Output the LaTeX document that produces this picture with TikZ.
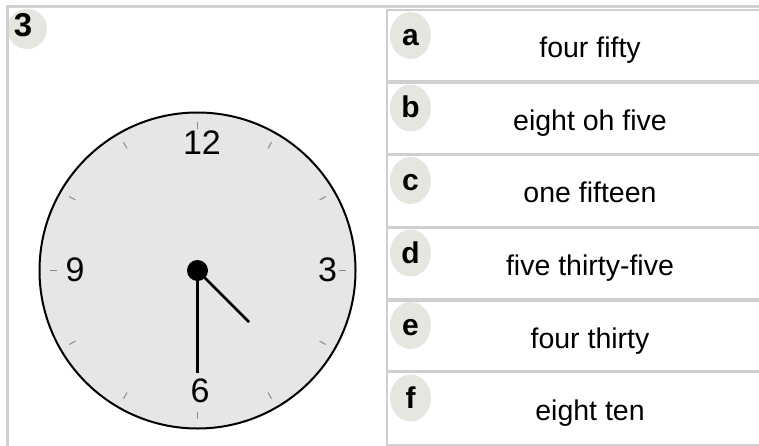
\documentclass[tikz,border=0pt]{standalone}
\usepackage{fontspec}
\setmainfont{Liberation Sans}
\definecolor{rulegray}{HTML}{CFCFCF}
\definecolor{badgegray}{HTML}{E6E6E0}
\definecolor{facegray}{HTML}{E6E6E6}
\definecolor{tickgray}{HTML}{8A8A8A}
\tikzset{
  rulefrm/.style={draw=rulegray},
  badge/.style={ellipse, fill=badgegray, inner sep=0pt, minimum width=41pt, minimum height=47pt},
  lettertxt/.style={anchor=base, inner sep=0pt, font=\fontsize{30}{30}\selectfont\bfseries},
  phrasetxt/.style={anchor=base, inner sep=0pt, font=\fontsize{28.5}{28.5}\selectfont},
  numtxt/.style={inner sep=0pt, font=\fontsize{34}{34}\selectfont},
  ticklin/.style={draw=tickgray, line width=1pt},
  hand/.style={line width=2.7pt, line cap=butt},
}
\usetikzlibrary{shapes.geometric}
\begin{document}
\begin{tikzpicture}[x=1pt,y=-1pt]
\useasboundingbox (0,0) rectangle (759,446);
% top-left badge
\node[circle, fill=badgegray, minimum size=40pt, inner sep=0pt] (qbadge) at (27,29) {};
\node[inner sep=0pt, font=\fontsize{33}{33}\selectfont\bfseries] (qnum) at (23,25) {3};
% frame lines
\coordinate (tl) at (6,6.5);
\coordinate (tr) at (759,6.5);
\coordinate (lt) at (7.5,5);
\coordinate (lb) at (7.5,446);
\draw[rulefrm, line width=3pt] (tl) -- (tr);
\draw[rulefrm, line width=3pt] (lt) -- (lb);
% clock
\node[circle, draw=black, line width=2pt, fill=facegray, minimum size=316pt, inner sep=0pt] (clock) at (197.5,270.5) {};
\foreach \a in {0,30,...,330}{
  \draw[ticklin] ([shift={(\a:141)}]clock.center) -- ([shift={(\a:148)}]clock.center);
}
\node[numtxt] (n12) at (202,143) {12};
\node[numtxt] (n3) at (327.5,270) {3};
\node[numtxt] (n9) at (75,270) {9};
\node[numtxt] (n6) at (200,390.5) {6};
\coordinate (hourtip) at (249,322);
\coordinate (mintip) at (197.5,373);
\draw[hand] (clock.center) -- (hourtip);
\draw[hand] (clock.center) -- (mintip);
\node[circle, fill=black, minimum size=21pt, inner sep=0pt] (hub) at (clock.center) {};
% right panel
\coordinate (vt) at (386.5,9);
\coordinate (vb) at (386.5,446);
\draw[rulefrm, line width=2pt] (vt) -- (vb);
\foreach \y/\w in {10/2, 82/3.5, 154.5/3.5, 227.5/3.5, 300/3.5, 371.5/3.5, 445/2}{
  \coordinate (sl) at (386,\y);
  \coordinate (sr) at (759,\y);
  \draw[rulefrm, line width=\w pt] (sl) -- (sr);
}
\foreach \i/\l/\t in {0/a/four fifty, 1/b/eight oh five, 2/c/one fifteen, 3/d/five thirty-five, 4/e/four thirty, 5/f/eight ten}{
  \pgfmathsetmacro{\top}{9.5+72.5*\i}
  \node[badge] (b\l) at (410.5,\top+26) {};
  \node[lettertxt] (l\l) at (410.5,\top+36) {\l};
  \node[phrasetxt] (p\l) at (590,\top+48.5) {\t};
}
\end{tikzpicture}
\end{document}
